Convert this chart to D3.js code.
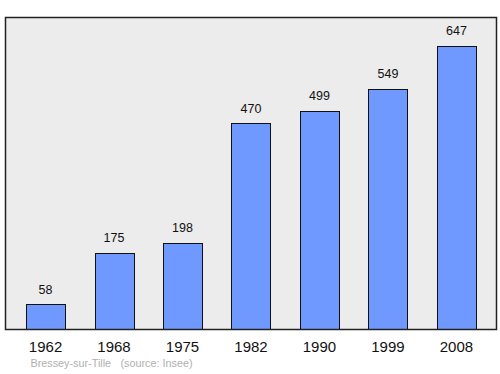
<!DOCTYPE html>
<html>
<head>
<meta charset="utf-8">
<script src="https://cdn.jsdelivr.net/npm/d3@7"></script>
<style>
  body { margin: 0; background: #fff; }
  text { font-family: "Liberation Sans", Arial, sans-serif; }
</style>
</head>
<body>
<div id="chart-area"></div>
<script>
let years = ["1962", "1968", "1975", "1982", "1990", "1999", "2008"];
let population = [58, 175, 198, 470, 499, 549, 647];
let sourceParts = ["Bressey-sur-Tille", "(source: Insee)"];

let width = 500,
    height = 374;

let frame = {left: 5.5, top: 17.5, right: 496.5, bottom: 329.5};

let svg = d3.select("#chart-area").append("svg")
    .attr("width", width)
    .attr("height", height);

// background panel
svg.append("rect")
    .attr("x", frame.left)
    .attr("y", frame.top)
    .attr("width", frame.right - frame.left)
    .attr("height", frame.bottom - frame.top)
    .attr("fill", "#ececec");

let x = d3.scaleBand()
    .domain(years)
    .range([frame.left, frame.right])
    .paddingInner(0.43)
    .paddingOuter(0.3);

let y = d3.scaleLinear()
    .domain([0, d3.max(population) * 1.1])
    .range([frame.bottom, frame.top]);

// bars
svg.selectAll(".bar")
    .data(population)
    .enter().append("rect")
    .attr("class", "bar")
    .attr("x", (d, i) => Math.round(x(years[i])) + 0.5)
    .attr("y", d => Math.round(y(d)) + 0.5)
    .attr("width", Math.round(x.bandwidth()))
    .attr("height", d => frame.bottom - Math.round(y(d)) - 0.5)
    .attr("fill", "#7099ff")
    .attr("stroke", "#111")
    .attr("stroke-width", 1);

// value labels
svg.selectAll(".val")
    .data(population)
    .enter().append("text")
    .attr("class", "val")
    .attr("x", (d, i) => x(years[i]) + x.bandwidth() / 2)
    .attr("y", d => y(d) - 10.5)
    .attr("text-anchor", "middle")
    .attr("font-size", 12.5)
    .attr("fill", "#111")
    .text(d => d);

// frame border over bars
svg.append("rect")
    .attr("x", frame.left)
    .attr("y", frame.top)
    .attr("width", frame.right - frame.left)
    .attr("height", frame.bottom - frame.top)
    .attr("fill", "none")
    .attr("stroke", "#222")
    .attr("stroke-width", 1.5);

// year labels
svg.selectAll(".year")
    .data(years)
    .enter().append("text")
    .attr("class", "year")
    .attr("x", d => x(d) + x.bandwidth() / 2)
    .attr("y", 352)
    .attr("text-anchor", "middle")
    .attr("font-size", 15)
    .attr("fill", "#111")
    .text(d => d);

// source
svg.selectAll(".src")
    .data(sourceParts)
    .enter().append("text")
    .attr("class", "src")
    .attr("x", (d, i) => i === 0 ? 30.5 : 120.5)
    .attr("y", 367)
    .attr("font-size", 10.8)
    .attr("fill", "#b0b0b0")
    .text(d => d);
</script>
</body>
</html>
